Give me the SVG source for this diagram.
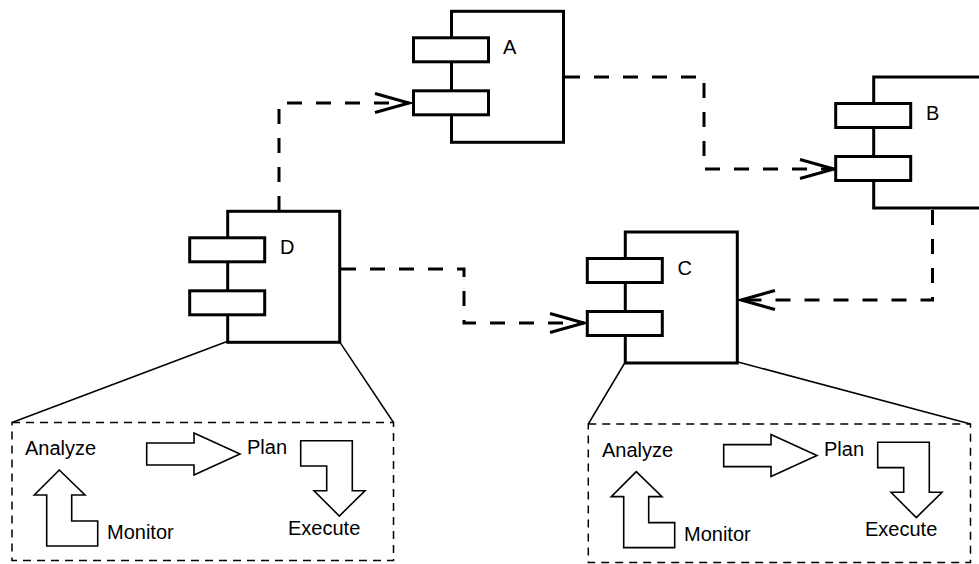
<svg xmlns="http://www.w3.org/2000/svg" width="979" height="564" viewBox="0 0 979 564">
  <style>
    .body { fill: #fff; stroke: #000; stroke-width: 3; }
    .port { fill: #fff; stroke: #000; stroke-width: 3; }
    .lbl { font-family: "Liberation Sans", Arial, Helvetica, sans-serif; font-size: 20px; fill: #000; }
    .conn { fill: none; stroke: #000; stroke-width: 3; stroke-dasharray: 15 14; }
    .zoom { fill: none; stroke: #000; stroke-width: 1.5; }
    .frame { fill: none; stroke: #000; stroke-width: 1.5; stroke-dasharray: 8 6; }
    .blk { fill: #fff; stroke: #000; stroke-width: 1.6; stroke-linejoin: miter; }
  </style>
  <defs>
    <marker id="open" markerUnits="userSpaceOnUse" markerWidth="44" markerHeight="30" viewBox="-40 -15 44 30" refX="0" refY="0" orient="auto" overflow="visible">
      <path d="M -34 -9.5 L 0 0 L -34 9.5" fill="none" stroke="#000" stroke-width="3" stroke-dasharray="none"/>
    </marker>
    <!-- component shape: body with two ports -->
    <g id="comp">
      <rect class="body" x="0" y="0" width="112" height="131"/>
      <rect class="port" x="-38" y="26.5" width="75" height="24"/>
      <rect class="port" x="-38" y="79.5" width="75" height="24"/>
    </g>
  </defs>

  <!-- connectors -->
  <g id="connectors">
    <path class="conn" d="M 279 211 V 103 H 409" marker-end="url(#open)"/>
    <path class="conn" d="M 565 77 H 704 V 169 H 834" marker-end="url(#open)"/>
    <path class="conn" d="M 932.5 210 V 300 H 741" marker-end="url(#open)"/>
    <path class="conn" d="M 341 269 H 464 V 323 H 584" marker-end="url(#open)"/>
  </g>

  <!-- components -->
  <g id="A">
    <use href="#comp" x="451.5" y="11.3"/>
    <text class="lbl" x="503" y="53.5">A</text>
  </g>
  <g id="B">
    <use href="#comp" x="873.7" y="77"/>
    <text class="lbl" x="926" y="119.5">B</text>
  </g>
  <g id="C">
    <use href="#comp" x="625.3" y="232"/>
    <text class="lbl" x="677.5" y="274.5">C</text>
  </g>
  <g id="D">
    <use href="#comp" x="227.7" y="211.3"/>
    <text class="lbl" x="280" y="254">D</text>
  </g>

  <!-- detail of D: MAPE loop -->
  <g id="D-detail">
    <path class="zoom" d="M 227.7 341.3 L 12 422.5 M 339.3 341.3 L 393.5 422.5"/>
    <rect class="frame" x="12" y="422.5" width="381.5" height="138"/>
    <polygon class="blk" points="59.3,470 34.3,495 46.7,495 46.7,546 97.7,546 97.7,521 71.7,521 71.7,495 85,495"/>
    <polygon class="blk" points="146.7,443 194,443 194,433 240,454 194,475 194,465 146.7,465"/>
    <polygon class="blk" points="300.7,440.7 352.3,440.7 352.3,490.7 365,490.7 339.3,516 314,490.7 326.7,490.7 326.7,466 300.7,466"/>
    <text class="lbl" x="25" y="455">Analyze</text>
    <text class="lbl" x="107" y="539">Monitor</text>
    <text class="lbl" x="247" y="454">Plan</text>
    <text class="lbl" x="288" y="534.5">Execute</text>
  </g>

  <!-- detail of C: MAPE loop -->
  <g id="C-detail">
    <path class="zoom" d="M 625.3 362 L 588.3 424 M 738 362 L 970.5 424"/>
    <rect class="frame" x="588.3" y="424" width="382.2" height="138.5"/>
    <g transform="translate(577,1.6)">
      <polygon class="blk" points="59.3,470 34.3,495 46.7,495 46.7,546 97.7,546 97.7,521 71.7,521 71.7,495 85,495"/>
      <polygon class="blk" points="146.7,443 194,443 194,433 240,454 194,475 194,465 146.7,465"/>
      <polygon class="blk" points="300.7,440.7 352.3,440.7 352.3,490.7 365,490.7 339.3,516 314,490.7 326.7,490.7 326.7,466 300.7,466"/>
      <text class="lbl" x="25" y="455">Analyze</text>
      <text class="lbl" x="107" y="539">Monitor</text>
      <text class="lbl" x="247" y="454">Plan</text>
      <text class="lbl" x="288" y="534.5">Execute</text>
    </g>
  </g>
</svg>
